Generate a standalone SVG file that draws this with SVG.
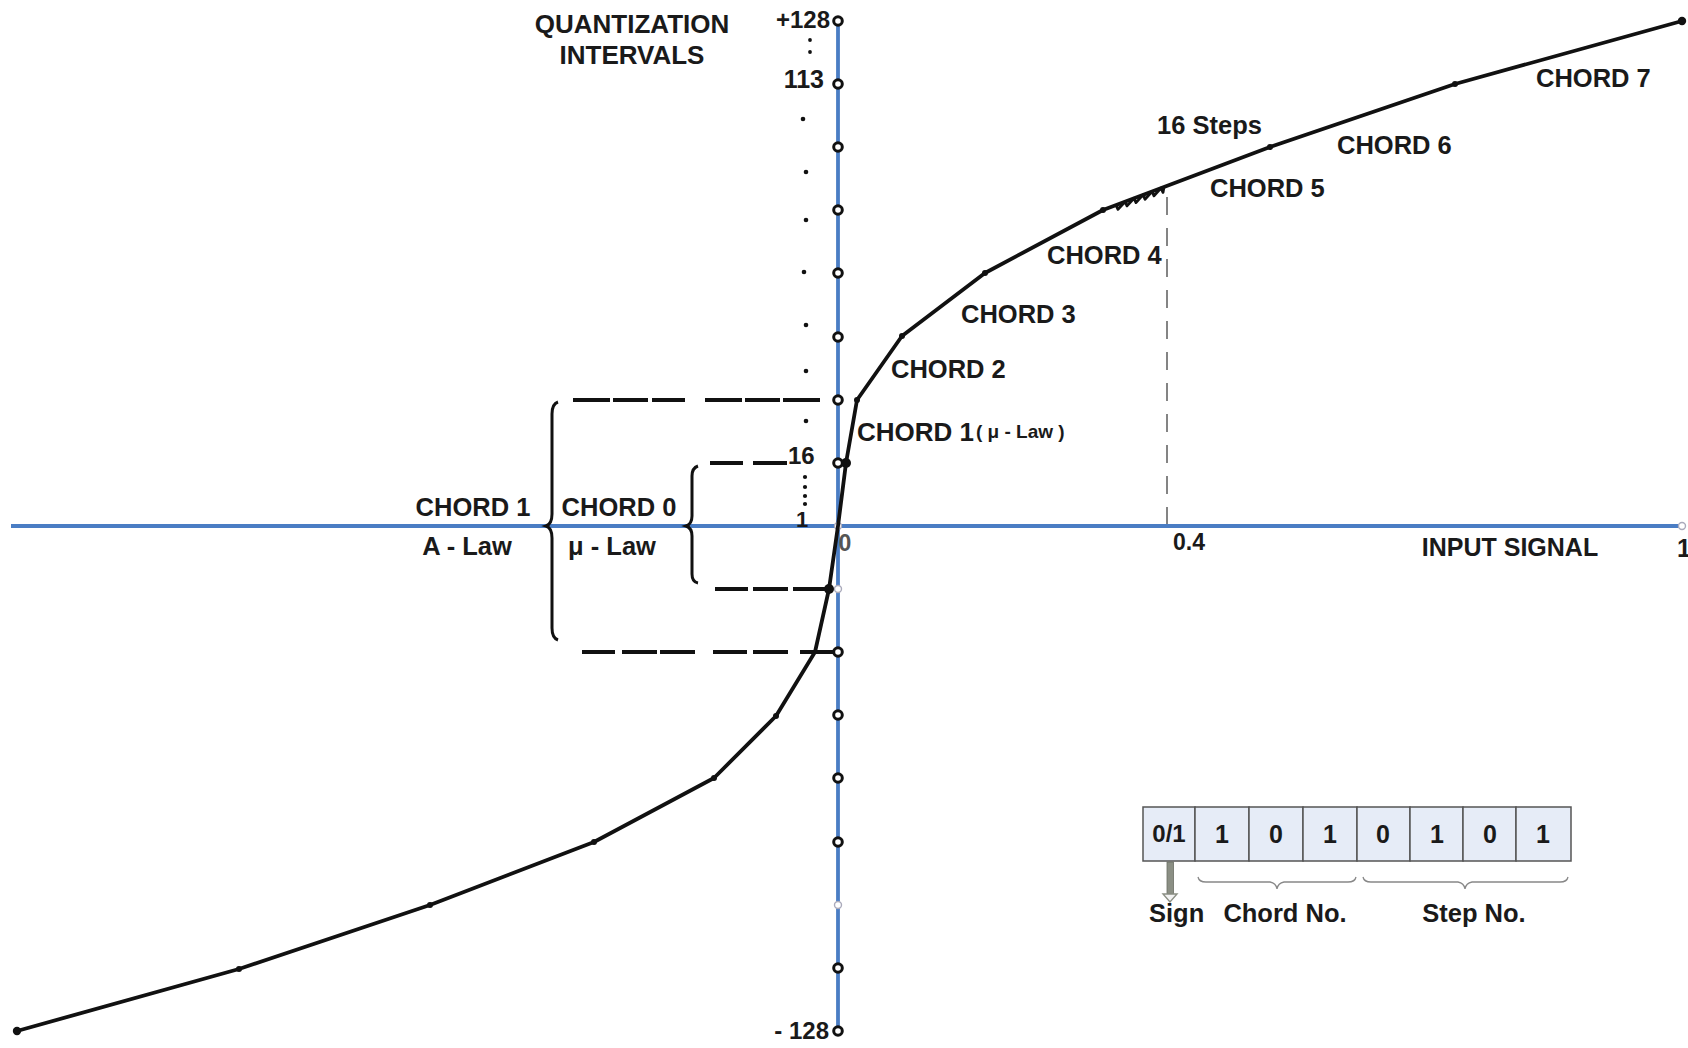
<svg xmlns="http://www.w3.org/2000/svg" width="1688" height="1048" viewBox="0 0 1688 1048">
  <style>
    text { font-family: "Liberation Sans", Arial, sans-serif; font-weight: bold; fill: #1a1a1a; }
    .lbl { font-size: 25.5px; }
    .mid { text-anchor: middle; }
    .end { text-anchor: end; }
    .axis { stroke: #4a7dc4; stroke-width: 3.8; fill: none; }
    .ring { fill: #fff; stroke: #111; stroke-width: 3; }
    .ring-lt { fill: #fff; stroke: #aab; stroke-width: 1.4; }
    .curve { fill: none; stroke: #111; stroke-width: 3.8; stroke-linejoin: round; }
    .vtx { fill: #111; }
    .dot { fill: #111; }
    .dash { stroke: #111; stroke-width: 4; fill: none; }
    .brace { fill: none; stroke: #111; stroke-width: 3; }
    .sbrace { fill: none; stroke: #888; stroke-width: 1.3; }
    .cell { fill: #e6ecf7; stroke: #555; stroke-width: 1.5; }
  </style>

  <!-- axes -->
  <g id="axes">
    <line class="axis" x1="11" y1="526" x2="1682" y2="526"/>
    <line class="axis" x1="838" y1="21" x2="838" y2="1031"/>
  </g>

  <!-- quantization ticks on the vertical axis -->
  <g id="ticks">
    <circle class="ring" cx="838" cy="21" r="4.3"/>
    <circle class="ring" cx="838" cy="84" r="4.3"/>
    <circle class="ring" cx="838" cy="147" r="4.3"/>
    <circle class="ring" cx="838" cy="210" r="4.3"/>
    <circle class="ring" cx="838" cy="273" r="4.3"/>
    <circle class="ring" cx="838" cy="337" r="4.3"/>
    <circle class="ring" cx="838" cy="400" r="4.3"/>
    <circle class="ring" cx="838" cy="463" r="4.3"/>
    <circle class="ring-lt" cx="838" cy="526" r="3.5"/>
    <circle class="ring-lt" cx="838" cy="589" r="3.5"/>
    <circle class="ring" cx="838" cy="652" r="4.3"/>
    <circle class="ring" cx="838" cy="715" r="4.3"/>
    <circle class="ring" cx="838" cy="778" r="4.3"/>
    <circle class="ring" cx="838" cy="842" r="4.3"/>
    <circle class="ring-lt" cx="838" cy="905" r="3.5"/>
    <circle class="ring" cx="838" cy="968" r="4.3"/>
    <circle class="ring" cx="838" cy="1031" r="4.3"/>
    <circle class="ring-lt" cx="1682" cy="526" r="3.5"/>
    <!-- ellipsis dots -->
    <circle class="dot" cx="810" cy="40" r="1.9"/>
    <circle class="dot" cx="810" cy="52" r="1.9"/>
    <circle class="dot" cx="803" cy="119" r="2.3"/>
    <circle class="dot" cx="806" cy="172" r="2.3"/>
    <circle class="dot" cx="806" cy="220" r="2.3"/>
    <circle class="dot" cx="804" cy="272" r="2.3"/>
    <circle class="dot" cx="806" cy="325" r="2.3"/>
    <circle class="dot" cx="806" cy="371" r="2.3"/>
    <circle class="dot" cx="806" cy="421" r="2.3"/>
    <circle class="dot" cx="805" cy="477" r="2.1"/>
    <circle class="dot" cx="805" cy="487" r="2.1"/>
    <circle class="dot" cx="805" cy="496" r="2.1"/>
    <circle class="dot" cx="805" cy="504" r="2.1"/>
  </g>

  <!-- connectors: level guides, braces and marker lines -->
  <g id="connectors">
    <path class="dash" d="M573 400H610M613 400H648M652 400H685M705 400H742M745 400H780M783 400H820"/>
    <path class="dash" d="M710 463H743M753 463H787"/>
    <path class="dash" d="M715 589H748M753 589H788M793 589H828"/>
    <path class="dash" d="M582 652H615M622 652H657M660 652H695M713 652H747M753 652H788M800 652H833"/>
    <line x1="1167" y1="197" x2="1167" y2="524" stroke="#666" stroke-width="1.6" stroke-dasharray="18 13"/>
    <path class="brace" d="M558 402Q552 404 552 414L552 514Q552 524 546 526Q552 528 552 538L552 628Q552 638 558 640"/>
    <path class="brace" d="M698 466Q692 468 692 476L692 516Q692 524 686 526Q692 528 692 536L692 574Q692 582 698 583"/>
  </g>

  <!-- companding characteristic -->
  <g id="curve">
    <polyline class="curve" points="17,1031 239,969 430,905 594,842 714,778 776,716 815,652 829,589 838,526 846,463 857,400 902,336 985,273 1103,210 1270,147 1455,84 1682,21"/>
    <!-- 16-step sawtooth detail on chord 5 -->
    <path fill="none" stroke="#111" stroke-width="2.8" stroke-linejoin="round" d="M1116 205.1L1118 209.3L1125 201.7L1127 205.9L1134 198.3L1136 202.6L1143 194.9L1145 199.2L1152 191.5L1154 195.8L1161 188.1L1163 192.4L1164 187"/>
    <circle class="vtx" cx="17" cy="1031" r="4.2"/>
    <circle class="vtx" cx="239" cy="969" r="3"/>
    <circle class="vtx" cx="430" cy="905" r="3"/>
    <circle class="vtx" cx="594" cy="842" r="3"/>
    <circle class="vtx" cx="714" cy="778" r="3"/>
    <circle class="vtx" cx="776" cy="716" r="3"/>
    <circle class="vtx" cx="829" cy="589" r="5"/>
    <circle class="vtx" cx="846" cy="463" r="5"/>
    <circle class="vtx" cx="857" cy="400" r="3"/>
    <circle class="vtx" cx="902" cy="336" r="3"/>
    <circle class="vtx" cx="985" cy="273" r="3"/>
    <circle class="vtx" cx="1103" cy="210" r="3"/>
    <circle class="vtx" cx="1270" cy="147" r="3"/>
    <circle class="vtx" cx="1455" cy="84" r="3"/>
    <circle class="vtx" cx="1682" cy="21" r="4.2"/>
  </g>

  <!-- axis labels -->
  <g id="axis-labels">
    <text class="mid" x="632" y="33" font-size="26">QUANTIZATION</text>
    <text class="mid" x="632" y="64" font-size="26">INTERVALS</text>
    <text class="end" x="830" y="28" font-size="24">+128</text>
    <text class="end" x="824" y="88" font-size="25">113</text>
    <text x="788" y="464" font-size="24">16</text>
    <text class="mid" x="802" y="527" font-size="22">1</text>
    <text class="mid" x="845" y="551" font-size="23" style="fill:#555">0</text>
    <text class="end" x="829" y="1039" font-size="24">- 128</text>
    <text class="mid" x="1189" y="550" font-size="23">0.4</text>
    <text class="mid" x="1510" y="556" font-size="25">INPUT SIGNAL</text>
    <text x="1677" y="557" font-size="25">1</text>
  </g>

  <!-- chord labels -->
  <g id="chord-labels">
    <text class="mid lbl" x="473" y="516">CHORD 1</text>
    <text class="mid lbl" x="467" y="555">A - Law</text>
    <text class="mid lbl" x="619" y="516">CHORD 0</text>
    <text class="mid lbl" x="612" y="555">μ - Law</text>
    <text x="857" y="441" font-size="26">CHORD 1</text>
    <text x="976" y="438" font-size="19">( μ - Law )</text>
    <text class="lbl" x="891" y="378">CHORD 2</text>
    <text class="lbl" x="961" y="323">CHORD 3</text>
    <text class="lbl" x="1047" y="264">CHORD 4</text>
    <text class="lbl" x="1210" y="197">CHORD 5</text>
    <text class="lbl" x="1157" y="134">16 Steps</text>
    <text class="lbl" x="1337" y="154">CHORD 6</text>
    <text class="lbl" x="1536" y="87">CHORD 7</text>
  </g>

  <!-- PCM code word -->
  <g id="codeword">
    <rect class="cell" x="1143" y="807" width="52" height="54"/>
    <rect class="cell" x="1195" y="807" width="54" height="54"/>
    <rect class="cell" x="1249" y="807" width="54" height="54"/>
    <rect class="cell" x="1303" y="807" width="54" height="54"/>
    <rect class="cell" x="1357" y="807" width="53" height="54"/>
    <rect class="cell" x="1410" y="807" width="53" height="54"/>
    <rect class="cell" x="1463" y="807" width="53" height="54"/>
    <rect class="cell" x="1516" y="807" width="55" height="54"/>
    <text class="mid" x="1169" y="842" font-size="24">0/1</text>
    <text class="mid" x="1222" y="843" font-size="25">1</text>
    <text class="mid" x="1276" y="843" font-size="25">0</text>
    <text class="mid" x="1330" y="843" font-size="25">1</text>
    <text class="mid" x="1383" y="843" font-size="25">0</text>
    <text class="mid" x="1437" y="843" font-size="25">1</text>
    <text class="mid" x="1490" y="843" font-size="25">0</text>
    <text class="mid" x="1543" y="843" font-size="25">1</text>
    <!-- sign pointer -->
    <rect x="1167" y="862" width="6.5" height="32" fill="#8b8f84" stroke="#6a6e64" stroke-width="0.8"/>
    <path d="M1163 894L1177 894L1170 902Z" fill="#f2f2f2" stroke="#8b8f84" stroke-width="1.4"/>
    <path class="sbrace" d="M1198 877Q1199 882 1206 882L1270 882Q1276 883 1277 889Q1278 883 1284 882L1348 882Q1355 882 1356 877"/>
    <path class="sbrace" d="M1363 877Q1364 882 1371 882L1458 882Q1464 883 1465 889Q1466 883 1472 882L1560 882Q1567 882 1568 877"/>
    <text class="lbl" x="1149" y="922">Sign</text>
    <text class="mid lbl" x="1285" y="922">Chord No.</text>
    <text class="mid lbl" x="1474" y="922">Step No.</text>
  </g>
</svg>
